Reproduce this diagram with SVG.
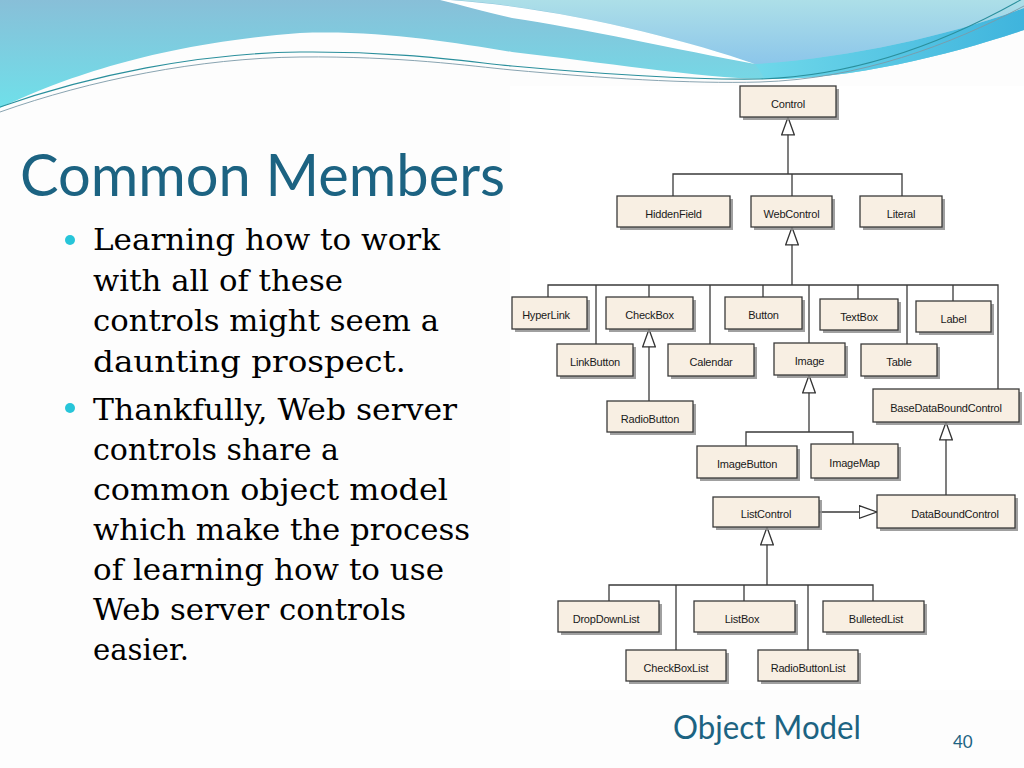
<svg xmlns="http://www.w3.org/2000/svg" width="1024" height="768" viewBox="0 0 1024 768">
<defs>
<linearGradient id="gBase" x1="0" y1="0" x2="0" y2="1">
<stop offset="0" stop-color="#88bfd8"/>
<stop offset="1" stop-color="#6fe0ea"/>
</linearGradient>
<linearGradient id="gRight" x1="0" y1="0" x2="0" y2="1">
<stop offset="0" stop-color="#addfe8"/>
<stop offset="1" stop-color="#8cc6ea"/>
</linearGradient>
<linearGradient id="gBand" x1="0" y1="0" x2="1" y2="0">
<stop offset="0" stop-color="#6fd8ea"/>
<stop offset="1" stop-color="#3fb4dd"/>
</linearGradient>
<marker id="tri" viewBox="0 0 19 14" refX="18.5" refY="7" markerWidth="19" markerHeight="14" markerUnits="userSpaceOnUse" orient="auto">
<path d="M0.7,0.7 L18.3,7 L0.7,13.3 Z" fill="#fff" stroke="#333" stroke-width="1.3"/>
</marker>
<style>
.box{fill:#f8efe3;stroke:#3a3a3a;stroke-width:1.3}
.shd{fill:#8f8f8f;opacity:0.85}
.lbl{font-family:"Liberation Sans",Arial,sans-serif;font-size:11px;fill:#1a1a1a;text-anchor:middle;letter-spacing:-0.2px}
.conn{stroke:#3a3a3a;stroke-width:1.3;fill:none}
.arr{stroke:#3a3a3a;stroke-width:1.3;fill:none;marker-end:url(#tri)}
.body{font-family:"DejaVu Serif","Liberation Serif",serif;font-size:30px;fill:#000}
.ttl{font-family:Lato,"Open Sans",sans-serif;fill:#1c6382}
</style>
</defs>
<rect x="0" y="0" width="1024" height="768" fill="#fdfdfd"/>
<rect x="510" y="86" width="514" height="604" fill="#ffffff"/>
<g id="header">
<path d="M0,108 C60,80 150,45 300,33 C380,30 450,42 512,52 C600,62 700,78 765,79 C850,80 950,55 1024,30 V0 H0 Z" fill="url(#gBase)"/>
<path d="M755,64 C850,58 950,35 1024,8 V30 C950,55 850,80 765,79 Z" fill="url(#gBand)"/>
<path d="M455,0 C560,8 680,38 755,64 C850,58 950,35 1024,8 V0 Z" fill="url(#gRight)"/>
<path d="M450,0 C560,8 680,38 755,64 C680,50 580,28 512,18 C485,12 462,5 440,0 Z" fill="#fff"/>
<path d="M0,107 C90,75 200,53 300,52 C400,51 470,62 512,66 C600,74 690,80 760,79 C860,76 950,40 1024,-2" fill="none" stroke="#2a8f9c" stroke-width="1.1"/>
<path d="M0,112 C90,80 200,58 300,57 C400,56 470,66 512,70 C600,78 690,84 760,82 C860,79 950,45 1024,6" fill="none" stroke="#7c9aa8" stroke-width="0.9"/>
</g>
<text class="ttl" x="20" y="196" font-size="58" textLength="485" lengthAdjust="spacingAndGlyphs">Common Members</text>
<g id="bullets">
<circle cx="70" cy="240" r="5" fill="#27c5d9"/>
<circle cx="70" cy="408" r="5" fill="#27c5d9"/>
<text class="body" x="93" y="250" textLength="347" lengthAdjust="spacingAndGlyphs">Learning how to work</text>
<text class="body" x="93" y="290.5" textLength="250" lengthAdjust="spacingAndGlyphs">with all of these</text>
<text class="body" x="93" y="331" textLength="346" lengthAdjust="spacingAndGlyphs">controls might seem a</text>
<text class="body" x="93" y="371.5" textLength="313" lengthAdjust="spacingAndGlyphs">daunting prospect.</text>
<text class="body" x="93" y="420" textLength="364" lengthAdjust="spacingAndGlyphs">Thankfully, Web server</text>
<text class="body" x="93" y="460" textLength="246" lengthAdjust="spacingAndGlyphs">controls share a</text>
<text class="body" x="93" y="500" textLength="355" lengthAdjust="spacingAndGlyphs">common object model</text>
<text class="body" x="93" y="540" textLength="377" lengthAdjust="spacingAndGlyphs">which make the process</text>
<text class="body" x="93" y="580" textLength="351" lengthAdjust="spacingAndGlyphs">of learning how to use</text>
<text class="body" x="93" y="620" textLength="313" lengthAdjust="spacingAndGlyphs">Web server controls</text>
<text class="body" x="93" y="660" textLength="96" lengthAdjust="spacingAndGlyphs">easier.</text>
</g>
<g id="connectors">
<path class="arr" d="M788,174 V117"/>
<path class="conn" d="M673,196 V174 H902 V196 M792,174 V196"/>
<path class="arr" d="M792,285 V227"/>
<path class="conn" d="M548,297 V285 H998 V389 M596,285 V344 M649,285 V297 M710,285 V344 M763,285 V297 M809,285 V343 M858,285 V299 M907,285 V344 M953,285 V301"/>
<path class="arr" d="M649,401 V329"/>
<path class="arr" d="M809,432 V375"/>
<path class="conn" d="M746,446 V432 H853 V444"/>
<path class="arr" d="M946,495 V422"/>
<path class="arr" d="M819,512 H877"/>
<path class="arr" d="M767,585 V527"/>
<path class="conn" d="M609,601 V585 H873 V601 M676,585 V650 M744,585 V601 M808,585 V650"/>
</g>
<g id="n-Control"><rect class="shd" x="743" y="89" width="96" height="31"/><rect class="box" x="740" y="86" width="96" height="31"/><text class="lbl" x="788" y="107.5">Control</text></g>
<g id="n-HiddenField"><rect class="shd" x="620" y="199" width="113" height="31"/><rect class="box" x="617" y="196" width="113" height="31"/><text class="lbl" x="673.5" y="217.5">HiddenField</text></g>
<g id="n-WebControl"><rect class="shd" x="754" y="199" width="81" height="31"/><rect class="box" x="751" y="196" width="81" height="31"/><text class="lbl" x="791.5" y="217.5">WebControl</text></g>
<g id="n-Literal"><rect class="shd" x="863" y="199" width="82" height="31"/><rect class="box" x="860" y="196" width="82" height="31"/><text class="lbl" x="901" y="217.5">Literal</text></g>
<g id="n-HyperLink"><rect class="shd" x="515" y="300" width="75" height="32"/><rect class="box" x="512" y="297" width="75" height="32"/><text class="lbl" x="546" y="319">HyperLink</text></g>
<g id="n-CheckBox"><rect class="shd" x="609" y="300" width="87" height="32"/><rect class="box" x="606" y="297" width="87" height="32"/><text class="lbl" x="649.5" y="319">CheckBox</text></g>
<g id="n-Button"><rect class="shd" x="728" y="300" width="77" height="32"/><rect class="box" x="725" y="297" width="77" height="32"/><text class="lbl" x="763.5" y="319">Button</text></g>
<g id="n-TextBox"><rect class="shd" x="823" y="302" width="78" height="31"/><rect class="box" x="820" y="299" width="78" height="31"/><text class="lbl" x="859" y="320.5">TextBox</text></g>
<g id="n-Label"><rect class="shd" x="919" y="304" width="75" height="31"/><rect class="box" x="916" y="301" width="75" height="31"/><text class="lbl" x="953.5" y="322.5">Label</text></g>
<g id="n-LinkButton"><rect class="shd" x="560" y="347" width="76" height="32"/><rect class="box" x="557" y="344" width="76" height="32"/><text class="lbl" x="595" y="366">LinkButton</text></g>
<g id="n-Calendar"><rect class="shd" x="671" y="347" width="86" height="32"/><rect class="box" x="668" y="344" width="86" height="32"/><text class="lbl" x="711" y="366">Calendar</text></g>
<g id="n-Image"><rect class="shd" x="777" y="346" width="71" height="32"/><rect class="box" x="774" y="343" width="71" height="32"/><text class="lbl" x="809.5" y="365">Image</text></g>
<g id="n-Table"><rect class="shd" x="864" y="347" width="76" height="32"/><rect class="box" x="861" y="344" width="76" height="32"/><text class="lbl" x="899" y="366">Table</text></g>
<g id="n-RadioButton"><rect class="shd" x="610" y="404" width="86" height="31"/><rect class="box" x="607" y="401" width="86" height="31"/><text class="lbl" x="650" y="422.5">RadioButton</text></g>
<g id="n-BaseDataBoundControl"><rect class="shd" x="876" y="392" width="146" height="33"/><rect class="box" x="873" y="389" width="146" height="33"/><text class="lbl" x="946" y="411.5">BaseDataBoundControl</text></g>
<g id="n-ImageButton"><rect class="shd" x="700" y="449" width="100" height="32"/><rect class="box" x="697" y="446" width="100" height="32"/><text class="lbl" x="747" y="468">ImageButton</text></g>
<g id="n-ImageMap"><rect class="shd" x="814" y="447" width="87" height="34"/><rect class="box" x="811" y="444" width="87" height="34"/><text class="lbl" x="854.5" y="467">ImageMap</text></g>
<g id="n-ListControl"><rect class="shd" x="716" y="500" width="106" height="30"/><rect class="box" x="713" y="497" width="106" height="30"/><text class="lbl" x="766" y="518">ListControl</text></g>
<g id="n-DataBoundControl"><rect class="shd" x="880" y="498" width="138" height="33"/><rect class="box" x="877" y="495" width="138" height="33"/><text class="lbl" x="955" y="517.5">DataBoundControl</text></g>
<g id="n-DropDownList"><rect class="shd" x="561" y="604" width="101" height="31"/><rect class="box" x="558" y="601" width="101" height="31"/><text class="lbl" x="606" y="622.5">DropDownList</text></g>
<g id="n-ListBox"><rect class="shd" x="697" y="604" width="101" height="31"/><rect class="box" x="694" y="601" width="101" height="31"/><text class="lbl" x="742" y="622.5">ListBox</text></g>
<g id="n-BulletedList"><rect class="shd" x="826" y="604" width="101" height="31"/><rect class="box" x="823" y="601" width="101" height="31"/><text class="lbl" x="876" y="622.5">BulletedList</text></g>
<g id="n-CheckBoxList"><rect class="shd" x="629" y="653" width="100" height="31"/><rect class="box" x="626" y="650" width="100" height="31"/><text class="lbl" x="676" y="671.5">CheckBoxList</text></g>
<g id="n-RadioButtonList"><rect class="shd" x="761" y="653" width="100" height="31"/><rect class="box" x="758" y="650" width="100" height="31"/><text class="lbl" x="808" y="671.5">RadioButtonList</text></g>
<text class="ttl" x="673" y="739" font-size="32" textLength="188" lengthAdjust="spacingAndGlyphs">Object Model</text>
<text class="ttl" x="953" y="748" font-size="17">40</text>
</svg>
